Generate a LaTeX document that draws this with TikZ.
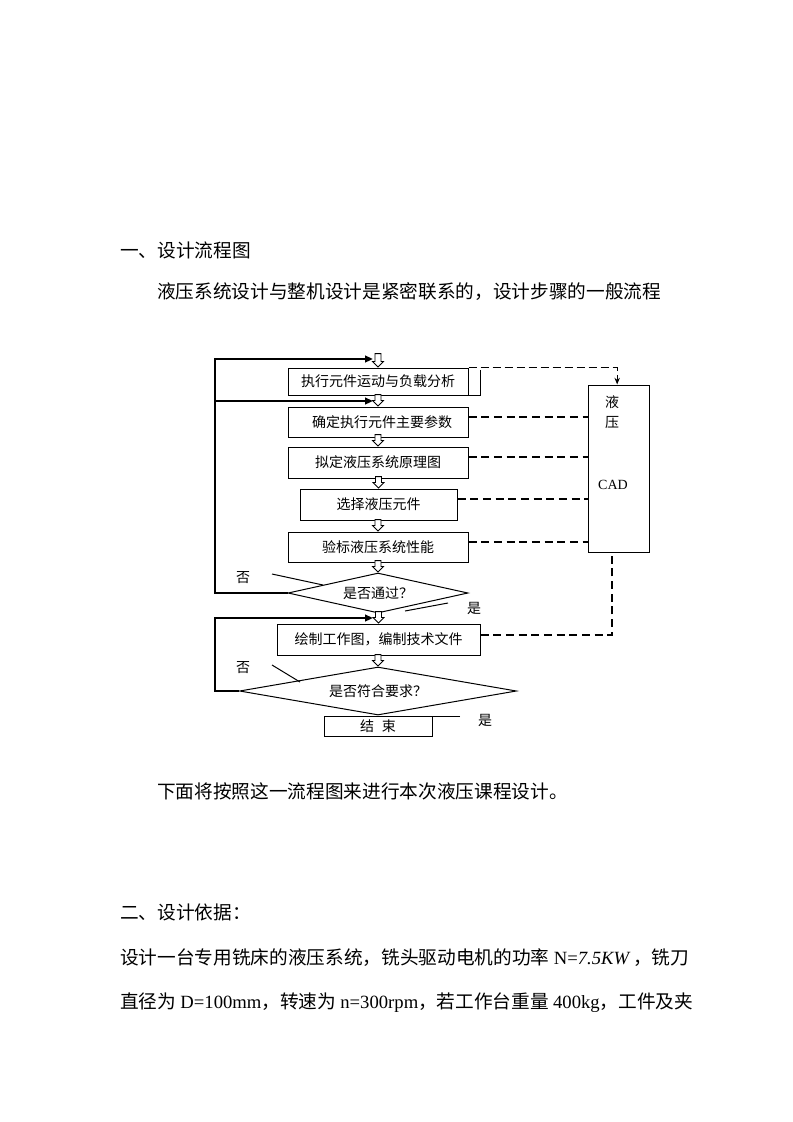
\documentclass[tikz,border=0pt]{standalone}
\usepackage{fontspec}
\setmainfont{Noto Sans CJK SC}
\newfontfamily\lserif{Liberation Serif}
\usetikzlibrary{shapes.geometric,shapes.arrows,arrows.meta}

\tikzset{
  stepbox/.style={draw, line width=0.75pt, inner sep=0pt, font=\fontsize{10.5}{12}\selectfont},
  decision/.style={diamond, draw, line width=0.75pt, inner sep=0pt, font=\fontsize{10.5}{12}\selectfont},
  hollow/.style={single arrow, draw, line width=0.6pt, fill=white, shape border rotate=270,
    minimum height=8.5pt, inner sep=2pt, single arrow head extend=1.8pt, anchor=tip},
  back/.style={line width=1.5pt, -{Triangle[length=6pt,width=5pt]}},
  link/.style={line width=1.5pt, dash pattern=on 6pt off 3.5pt},
  note/.style={font=\fontsize{10.5}{12}\selectfont},
  para/.style={anchor=west, inner sep=0pt, font=\fontsize{14}{16}\selectfont},
}

\begin{document}
\begin{tikzpicture}[x=0.75pt,y=-0.75pt]
  \useasboundingbox[fill=white] (0,0) rectangle (793,1122);

  % page text
  \node[para] (h1) at (120,250) {一、设计流程图};
  \node[para] (p1) at (157,292) {液压系统设计与整机设计是紧密联系的，设计步骤的一般流程};
  \node[para] (p2) at (157,791) {下面将按照这一流程图来进行本次液压课程设计。};
  \node[para] (h2) at (120,912) {二、设计依据：};
  \node[para] (p3) at (120,958) {设计一台专用铣床的液压系统，铣头驱动电机的功率 {\lserif N=\itshape 7.5KW} ，铣刀};
  \node[para] (p4) at (120,1003) {直径为 {\lserif D=100mm}，转速为 {\lserif n=300rpm}，若工作台重量 {\lserif 400kg}，工件及夹};

  % flow chart
  \node[stepbox, minimum width=135pt, minimum height=20.25pt] (b1) at (378,381.5) {执行元件运动与负载分析};
  \node[stepbox, minimum width=135pt, minimum height=22.5pt] (b2) at (378,422) {\hspace{6pt}确定执行元件主要参数};
  \node[stepbox, minimum width=135pt, minimum height=23.25pt] (b3) at (378,462.5) {拟定液压系统原理图};
  \node[stepbox, minimum width=117.75pt, minimum height=23.25pt] (b4) at (378.5,504.5) {选择液压元件};
  \node[stepbox, minimum width=135pt, minimum height=22.5pt] (b5) at (378,547) {验标液压系统性能};
  \node[decision, aspect=4.5, minimum width=135pt, minimum height=30pt] (d1) at (378,593) {是否通过？};
  \node[stepbox, minimum width=152.25pt, minimum height=23.25pt] (b6) at (378.5,639.5) {绘制工作图，编制技术文件};
  \node[decision, aspect=5.8, minimum width=207.75pt, minimum height=36pt] (d2) at (378,691) {是否符合要求？};
  \node[stepbox, minimum width=81pt, minimum height=15pt] (end) at (378,726) {\raisebox{-3pt}{结\hspace{6pt}束}};
  \node[stepbox, minimum width=45.75pt, minimum height=125.25pt] (cad) at (618.5,468.5) {};
  \node[note] (cad1) at (612,402) {液};
  \node[note] (cad2) at (612,423) {压};
  \node[note, font=\fontsize{10.5}{12}\lserif] (cad3) at (613,485) {CAD};

  \draw[line width=0.75pt] (b1.south east) -- ++(12,0) -- ++(0,-26);

  % yes / no labels
  \node[note] (no1) at (243,578) {否};
  \node[note] (yes1) at (474,608) {是};
  \node[note] (no2) at (243,668) {否};
  \node[note] (yes2) at (485,720) {是};
  \coordinate (n1a) at (272,574);  \coordinate (n1b) at (323,585);
  \coordinate (y1a) at (448,603);  \coordinate (y1b) at (405,611);
  \coordinate (n2a) at (272,665);  \coordinate (n2b) at (300,682);
  \coordinate (y2a) at (460,716);  \coordinate (y2b) at (388,716);
  \draw[line width=0.75pt] (n1a) -- (n1b);
  \draw[line width=0.75pt] (y1a) -- (y1b);
  \draw[line width=0.75pt] (n2a) -- (n2b);
  \draw[line width=0.75pt] (y2a) -- (y2b);

  % feedback loops
  \coordinate (in1) at (373,359);
  \coordinate (in2) at (373,401);
  \coordinate (in3) at (373,618);
  \coordinate (lft) at (215,0);
  \draw[back] (d1.west) -- (d1.west -| lft) |- (in1);
  \draw[back] (lft |- in2) -- (in2);
  \draw[back] (d2.west) -- (d2.west -| lft) |- (in3);

  % hollow flow arrows
  \node[hollow, minimum height=10pt] (h-b1) at (b1.north) {};
  \foreach \t in {b2,b3,b4,b5,d1,b6,d2}
    \node[hollow] (h-\t) at (\t.north) {};

  % links to CAD
  \draw[line width=1pt, dash pattern=on 6pt off 3pt, -{Stealth[length=5pt,width=4pt]}]
    (b1.north east) -| ([xshift=-1pt]cad.north);
  \foreach \b in {b2,b3,b4,b5}
    \draw[link] ([yshift=-7.5pt]\b.north east) coordinate (t-\b) -- (t-\b -| cad.west);
  \draw[link] ([yshift=3.5pt]b6.east) -| ([xshift=-4.9pt]cad.south);
\end{tikzpicture}
\end{document}
